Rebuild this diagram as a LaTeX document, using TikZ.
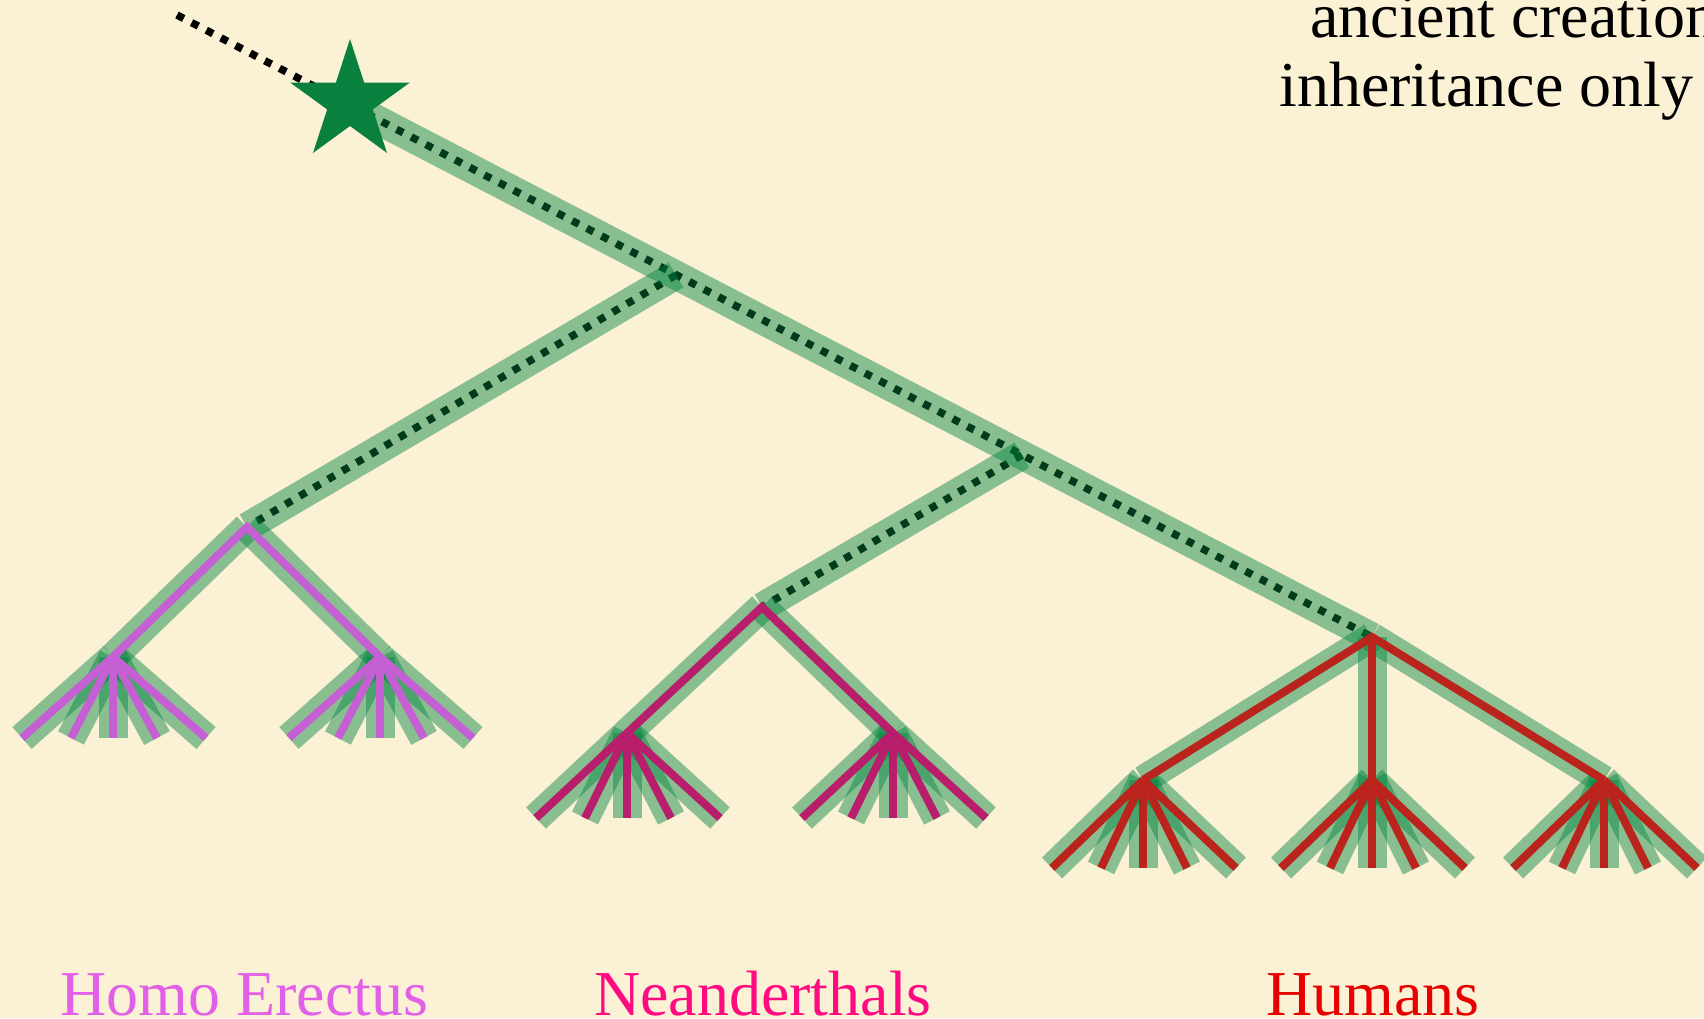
\documentclass[tikz,border=0pt]{standalone}
\usepackage{fontspec}
\setmainfont{Liberation Serif}
\usetikzlibrary{calc}

\definecolor{paper}{RGB}{251,241,213}
\definecolor{bandgreen}{RGB}{0,132,62}
\definecolor{starfill}{RGB}{10,128,62}
\definecolor{erectusline}{RGB}{196,96,212}
\definecolor{neanderline}{RGB}{184,30,108}
\definecolor{humanline}{RGB}{186,36,28}
\definecolor{erectustext}{RGB}{226,96,232}
\definecolor{neandertext}{RGB}{255,10,128}
\definecolor{humantext}{RGB}{232,0,0}

\begin{document}
\begin{tikzpicture}[x=1pt,y=-1pt,
  band/.style={line width=29pt, draw=bandgreen, draw opacity=0.45},
  dotline/.style={line width=7.5pt, dash pattern=on 7.5pt off 9pt, draw=black},
  lineage/.style={line width=8pt, draw=#1},
  grouplabel/.style={font=\fontsize{64}{70}\selectfont, inner sep=0pt, anchor=base west}]

% paper
\fill[paper] (0,0) rectangle (1704,1018);
\useasboundingbox (0,0) rectangle (1704,1018);

% main line of descent and its branch points
\coordinate (origin) at (177,15);
\coordinate (root) at (350,102);
\coordinate (bandstart) at (345,103);
\coordinate (j2) at (676,275);
\coordinate (j5) at (1022,455);
\coordinate (hum) at (1372,637);
\coordinate (ere) at (247,527);
\coordinate (nea) at (762,607);

% apexes of the fans
\coordinate (e1) at (113,657);
\coordinate (e2) at (380,657);
\coordinate (n1) at (627,733);
\coordinate (n2) at (893,733);
\coordinate (h1) at (1143,780);
\coordinate (h2) at (1372,780);
\coordinate (h3) at (1604,780);

% leaf tips of every fan
\foreach \f/\d in {e1/81,e2/81,n1/85,n2/85,h1/88,h2/88,h3/88}{
  \foreach \dx [count=\k] in {-91,-42,0,44,93}{
    \coordinate (\f-\k) at ($(\f)+(\dx,\d)$);
  }
}

% dotted common inheritance
\draw[dotline] (origin) -- (hum);
\draw[dotline] (j2) -- (ere);
\draw[dotline] (j5) -- (nea);

% translucent green bands
\draw[band] (bandstart) -- (hum);
\draw[band] (j2) -- (ere);
\draw[band] (j5) -- (nea);
\foreach \a/\b in {ere/e1,ere/e2,nea/n1,nea/n2,hum/h1,hum/h2,hum/h3}{
  \draw[band] (\a) -- (\b);
}
\foreach \f in {e1,e2,n1,n2,h1,h2,h3}{
  \foreach \k in {1,...,5}{
    \draw[band] (\f) -- (\f-\k);
  }
}

% coloured lineages
\draw[lineage=erectusline] (e1) -- (ere) -- (e2);
\draw[lineage=neanderline] (n1) -- (nea) -- (n2);
\draw[lineage=humanline] (h1) -- (hum) -- (h3);
\draw[lineage=humanline] (hum) -- (h2);
\foreach \f/\c in {e1/erectusline,e2/erectusline,n1/neanderline,n2/neanderline,h1/humanline,h2/humanline,h3/humanline}{
  \foreach \k in {1,...,5}{
    \draw[lineage=\c] (\f) -- (\f-\k);
  }
}

% star at the root
\fill[starfill, shift={(root)}] (270:63) -- (306:24) -- (342:63) -- (18:24) -- (54:63)
  -- (90:24) -- (126:63) -- (162:24) -- (198:63) -- (234:24) -- cycle;

% texts
\node[grouplabel] (note1) at (1310,37) {ancient creation};
\node[grouplabel] (note2) at (1279,106) {inheritance only};
\node[grouplabel, text=erectustext] (erectuslabel) at (60,1015) {Homo Erectus};
\node[grouplabel, text=neandertext] (neanderlabel) at (594,1015) {Neanderthals};
\node[grouplabel, text=humantext] (humanlabel) at (1266,1015) {Humans};
\end{tikzpicture}
\end{document}
